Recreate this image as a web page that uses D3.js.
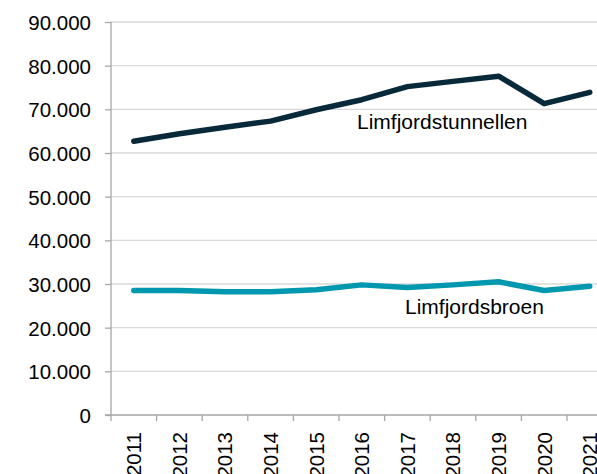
<!DOCTYPE html>
<html>
<head>
<meta charset="utf-8">
<script src="https://cdn.jsdelivr.net/npm/d3@7"></script>
<style>
  body { margin: 0; background: #fff; }
  svg { display: block; font-family: "Liberation Sans", Arial, sans-serif; }
  .grid line { stroke: #d9d9d9; stroke-width: 1.3; }
  .axis path, .axis line { stroke: #a6a6a6; stroke-width: 1.3; }
  .axis text { fill: #000; font-size: 20.5px; }
</style>
</head>
<body>
<div id="chart"></div>
<script>
var years = ["2011", "2012", "2013", "2014", "2015", "2016", "2017", "2018", "2019", "2020", "2021"];
var tunnel = [62700, 64400, 65900, 67300, 69900, 72200, 75200, 76400, 77600, 71300, 73900];
var broen = [28500, 28500, 28200, 28200, 28700, 29800, 29200, 29800, 30500, 28500, 29500];
var yTicks = [0, 10000, 20000, 30000, 40000, 50000, 60000, 70000, 80000, 90000];

var width = 597,
    height = 474;

var plotLeft = 111,
    plotTop = 22,
    plotBottom = 415,
    step = 45.6;

var svg = d3.select("#chart").append("svg")
    .attr("width", width)
    .attr("height", height);

var x = d3.scaleBand()
    .domain(years)
    .range([plotLeft, plotLeft + step * years.length])
    .padding(0);

var y = d3.scaleLinear()
    .domain([0, 90000])
    .range([plotBottom, plotTop]);

var fmt = function(d) { return d3.format(",")(d).replace(/,/g, "."); };

// gridlines
svg.append("g")
    .attr("class", "grid")
  .selectAll("line")
    .data(yTicks.slice(1))
  .enter().append("line")
    .attr("x1", plotLeft)
    .attr("x2", width)
    .attr("y1", function(d) { return y(d); })
    .attr("y2", function(d) { return y(d); });

// y axis
var yAxis = svg.append("g")
    .attr("class", "axis")
    .attr("transform", "translate(" + plotLeft + ",0)")
    .call(d3.axisLeft(y).tickValues(yTicks).tickFormat(fmt).tickSize(6).tickPadding(14));
yAxis.select(".domain").attr("d", "M0," + plotTop + "V" + plotBottom);
yAxis.selectAll("text").attr("dy", "0.36em");

// x axis: ticks at band edges
var xg = svg.append("g")
    .attr("class", "axis");
xg.append("line")
    .attr("x1", plotLeft - 6)
    .attr("x2", width)
    .attr("y1", plotBottom)
    .attr("y2", plotBottom);
var edges = years.map(function(d) { return x(d); }).concat([x(years[years.length - 1]) + x.bandwidth()]);
xg.selectAll(".tk")
    .data(edges)
  .enter().append("line")
    .attr("class", "tk")
    .attr("x1", function(d) { return d; })
    .attr("x2", function(d) { return d; })
    .attr("y1", plotBottom)
    .attr("y2", plotBottom + 6);
xg.selectAll(".lbl")
    .data(years)
  .enter().append("text")
    .attr("class", "lbl")
    .attr("text-anchor", "end")
    .attr("dy", "0.36em")
    .attr("transform", function(d) {
      return "translate(" + (x(d) + x.bandwidth() / 2) + "," + (plotBottom + 17) + ") rotate(-90)";
    })
    .text(function(d) { return d; });

var line = d3.line()
    .x(function(d, i) { return x(years[i]) + x.bandwidth() / 2; })
    .y(function(d) { return y(d); });

svg.append("path")
    .datum(broen)
    .attr("fill", "none")
    .attr("stroke", "#0098ae")
    .attr("stroke-width", 5.5)
    .attr("stroke-linejoin", "round")
    .attr("stroke-linecap", "round")
    .attr("d", line);

svg.append("path")
    .datum(tunnel)
    .attr("fill", "none")
    .attr("stroke", "#08293a")
    .attr("stroke-width", 5.5)
    .attr("stroke-linejoin", "round")
    .attr("stroke-linecap", "round")
    .attr("d", line);

svg.append("text")
    .attr("x", 357)
    .attr("y", 129)
    .attr("font-size", 21)
    .text("Limfjordstunnellen");

svg.append("text")
    .attr("x", 405)
    .attr("y", 314)
    .attr("font-size", 21)
    .text("Limfjordsbroen");
</script>
</body>
</html>
